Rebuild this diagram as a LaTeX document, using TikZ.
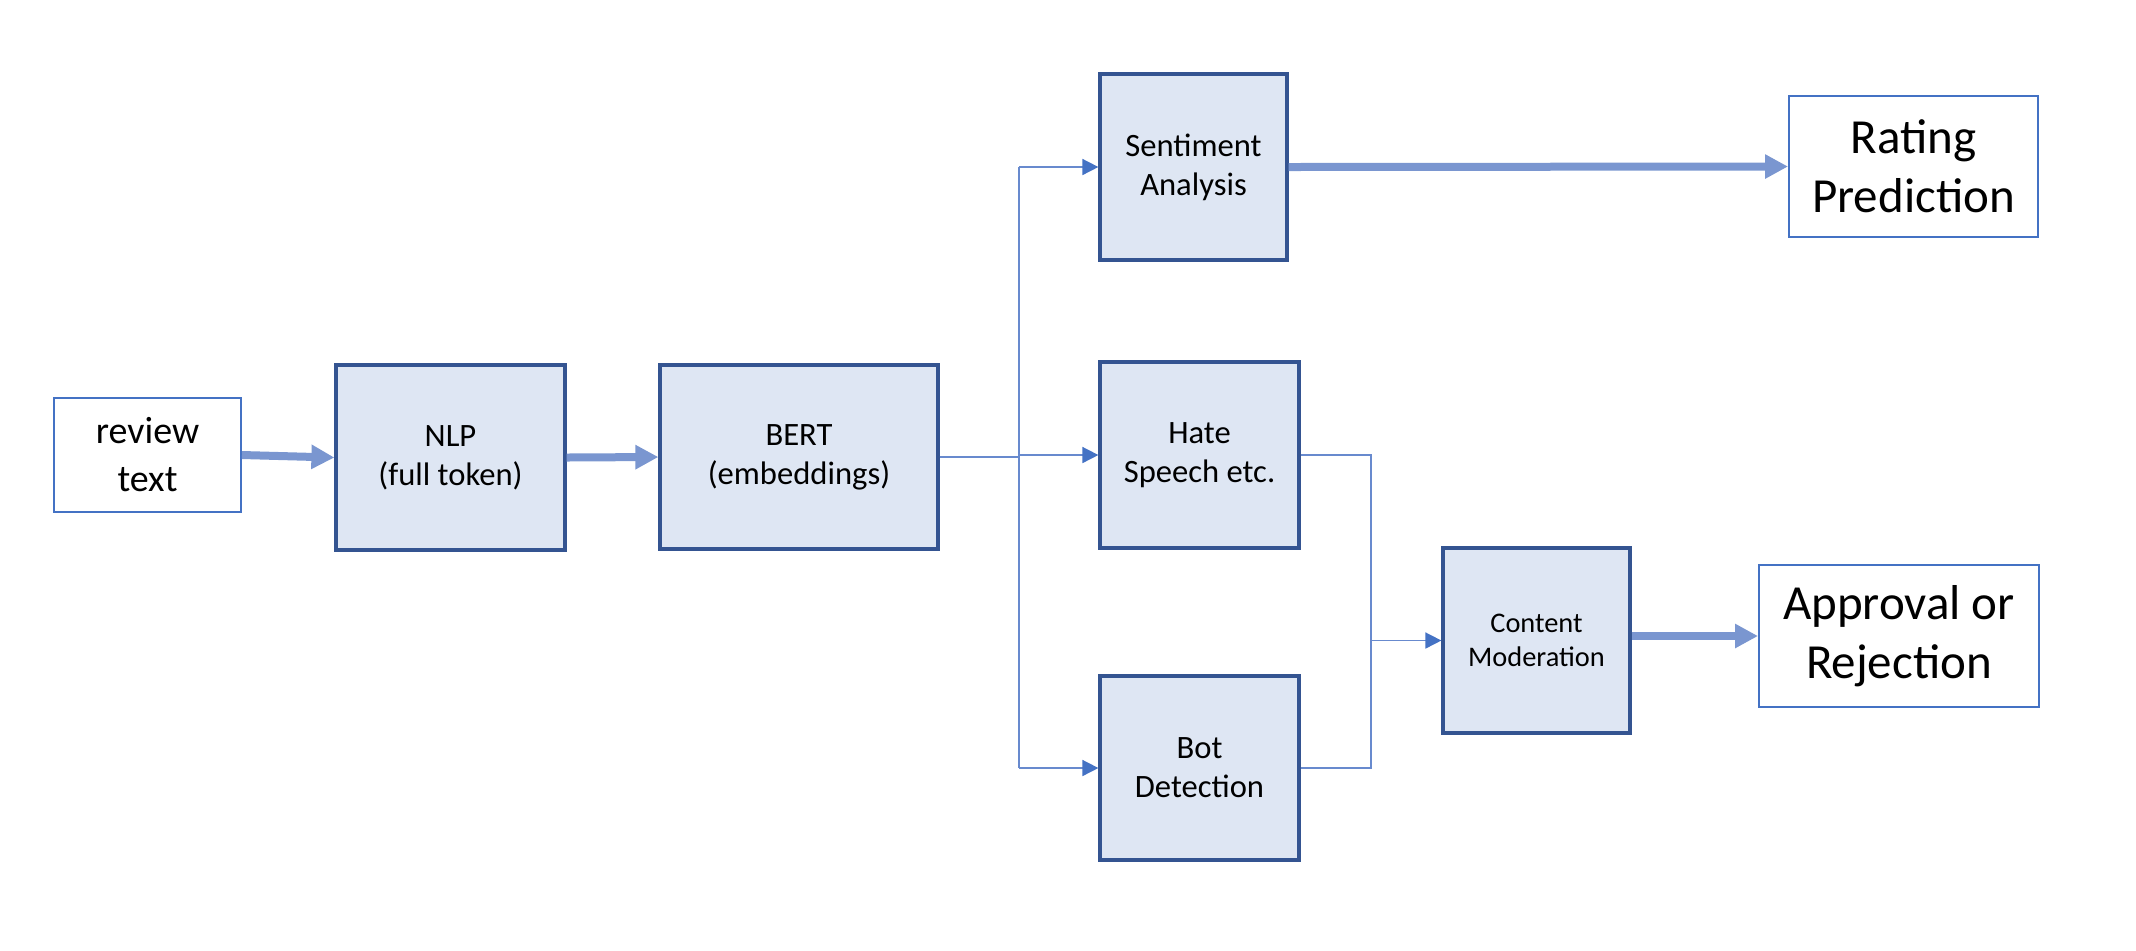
\documentclass[tikz,border=0pt]{standalone}
\usepackage{fontspec}
\setmainfont{Carlito}
\usetikzlibrary{arrows.meta}
\definecolor{boxfill}{RGB}{222,230,243}
\definecolor{boxline}{RGB}{52,84,145}
\definecolor{lightline}{RGB}{68,114,196}
\definecolor{thickc}{RGB}{122,150,208}
\definecolor{thinc}{RGB}{104,138,206}
\definecolor{headc}{RGB}{68,114,196}
\tikzset{
  procbox/.style={draw=boxline, fill=boxfill, line width=1.6pt, inner sep=0pt, align=center, text=black},
  endbox/.style={draw=lightline, fill=white, line width=1pt, inner sep=0pt, align=center, text=black},
  midfont/.style={font=\fontsize{16.3}{19.5}\selectfont},
  smallfont/.style={font=\fontsize{14.2}{17}\selectfont},
  bigfont/.style={font=\fontsize{24.5}{29.5}\selectfont},
  infont/.style={font=\fontsize{19}{24}\selectfont},
  thickarrow/.style={draw=thickc, line width=4pt, -{Triangle[length=11.5pt,width=11.5pt]}},
  thinline/.style={draw=thinc, line width=0.8pt},
  thinarrow/.style={draw=thinc, line width=0.8pt, -{Triangle[length=8pt,width=8pt,color=headc]}}
}
\begin{document}
\begin{tikzpicture}[x=0.5pt,y=-0.5pt]
\useasboundingbox (0,0) rectangle (2136,950);
\node[endbox, infont, minimum width=93.5pt, minimum height=57pt] (rev) at (147.5,455) {review\\text};
\node[procbox, midfont, minimum width=114.5pt, minimum height=92.5pt] (nlp) at (450.5,457.5) {NLP\\(full token)};
\node[procbox, midfont, minimum width=139pt, minimum height=92pt] (bert) at (799,457) {BERT\\(embeddings)};
\node[procbox, midfont, minimum width=93.5pt, minimum height=93pt] (sent) at (1193.5,167) {Sentiment\\Analysis};
\node[procbox, midfont, minimum width=99.5pt, minimum height=93pt] (hate) at (1199.5,455) {Hate\\Speech etc.};
\node[procbox, midfont, minimum width=99.5pt, minimum height=92pt] (bot) at (1199.5,768) {Bot\\Detection};
\node[procbox, smallfont, minimum width=93.5pt, minimum height=92.5pt] (cm) at (1536.5,640.5) {Content\\Moderation};
\node[endbox, bigfont, minimum width=140pt, minimum height=71pt] (appr) at (1899,636) {Approval or\\Rejection};
\node[endbox, bigfont, minimum width=124.5pt, minimum height=70.5pt] (rate) at (1913.5,166.5) {Rating\\Prediction};
\coordinate (bx) at (1019,0);
\coordinate (mx) at (1371,0);
% thick arrows
\draw[thickarrow] (rev.east) -- (nlp.west);
\draw[thickarrow] (nlp.east) -- (bert.west);
\draw[thickarrow] (sent.east) -- (rate.west);
\draw[thickarrow] (cm.east |- appr.west) -- (appr.west);
% branch
\draw[thinline] (bert.east) -- (bx |- bert.east);
\draw[thinline] (bx |- sent.west) -- (bx |- bot.west);
\draw[thinarrow] (bx |- sent.west) -- (sent.west);
\draw[thinarrow] (bx |- hate.west) -- (hate.west);
\draw[thinarrow] (bx |- bot.west) -- (bot.west);
% merge
\draw[thinline] (hate.east) -- (mx |- hate.east) -- (mx |- bot.east) -- (bot.east);
\draw[thinarrow] (mx |- cm.west) -- (cm.west);
\end{tikzpicture}
\end{document}
